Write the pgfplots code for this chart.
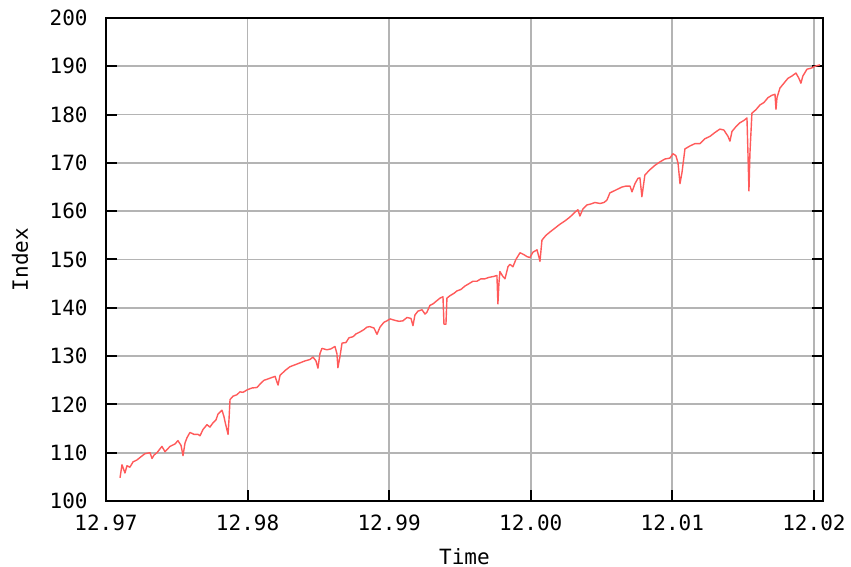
\documentclass[border=0pt]{standalone}
\usepackage{fontspec}
\setmainfont{DejaVu Sans Mono}
\usepackage{pgfplots}
\pgfplotsset{compat=1.18}
\definecolor{lineRed}{HTML}{FF5A5A}
\definecolor{gridGray}{HTML}{B4B4B4}
\pgfplotstableread{
x y
0.099 104.8
0.113 107.5
0.134 105.8
0.148 107.3
0.169 107.0
0.191 108.1
0.219 108.5
0.240 109.0
0.275 109.8
0.311 110.0
0.325 108.8
0.339 109.5
0.360 110.0
0.395 111.3
0.417 110.2
0.452 111.3
0.487 111.8
0.508 112.5
0.530 111.5
0.544 109.4
0.558 112.0
0.572 113.1
0.593 114.2
0.621 113.8
0.650 113.8
0.664 113.5
0.685 114.8
0.713 115.8
0.734 115.3
0.756 116.2
0.777 116.8
0.791 118.0
0.819 118.8
0.833 117.5
0.840 116.5
0.862 113.8
0.869 117.0
0.876 121.0
0.897 121.7
0.925 122.0
0.946 122.6
0.968 122.5
0.996 123.0
1.031 123.4
1.066 123.5
1.088 124.2
1.116 125.0
1.137 125.2
1.165 125.5
1.194 125.8
1.215 124.0
1.229 126.0
1.264 127.0
1.299 127.8
1.335 128.2
1.370 128.6
1.405 129.0
1.441 129.3
1.462 129.8
1.483 129.0
1.497 127.5
1.511 130.5
1.525 131.6
1.561 131.3
1.589 131.5
1.617 132.0
1.631 130.5
1.638 127.6
1.653 130.0
1.667 132.7
1.695 132.8
1.716 133.8
1.744 134.0
1.766 134.6
1.794 135.0
1.822 135.5
1.843 136.0
1.864 136.1
1.893 135.8
1.914 134.5
1.935 136.0
1.963 137.0
1.984 137.3
2.006 137.7
2.041 137.4
2.069 137.2
2.097 137.3
2.126 138.0
2.154 137.8
2.168 136.3
2.182 138.5
2.203 139.3
2.232 139.6
2.253 138.7
2.267 139.1
2.288 140.5
2.309 140.8
2.338 141.5
2.359 142.0
2.380 142.3
2.387 136.6
2.401 136.6
2.408 142.0
2.429 142.5
2.458 143.0
2.479 143.5
2.507 143.8
2.535 144.5
2.564 145.0
2.592 145.5
2.620 145.5
2.648 146.0
2.676 146.0
2.705 146.3
2.740 146.5
2.761 146.7
2.768 140.8
2.775 145.0
2.782 147.5
2.803 146.5
2.818 146.0
2.839 148.5
2.853 149.0
2.874 148.5
2.895 150.0
2.924 151.4
2.952 151.0
2.973 150.6
2.994 150.4
3.015 151.5
3.044 152.0
3.058 150.5
3.065 149.6
3.079 154.0
3.107 155.0
3.136 155.7
3.171 156.5
3.206 157.3
3.242 158.0
3.277 158.8
3.312 159.8
3.333 160.3
3.347 159.0
3.369 160.5
3.397 161.3
3.425 161.5
3.453 161.8
3.489 161.6
3.517 161.8
3.538 162.3
3.559 163.8
3.588 164.2
3.616 164.6
3.644 165.0
3.672 165.2
3.701 165.2
3.715 164.0
3.736 165.7
3.757 166.8
3.771 166.9
3.785 163.0
3.799 166.0
3.806 167.5
3.842 168.6
3.877 169.5
3.912 170.2
3.947 170.8
3.983 171.0
4.004 171.9
4.025 171.5
4.040 170.0
4.054 165.7
4.068 168.0
4.089 172.9
4.124 173.5
4.160 174.0
4.195 174.0
4.230 175.0
4.266 175.5
4.301 176.3
4.336 177.0
4.364 176.8
4.393 175.5
4.407 174.5
4.421 176.5
4.449 177.5
4.477 178.3
4.506 178.8
4.527 179.3
4.534 172.0
4.541 164.2
4.548 172.0
4.562 180.3
4.590 181.0
4.619 182.0
4.647 182.5
4.675 183.5
4.703 184.0
4.725 184.2
4.732 181.1
4.739 183.5
4.760 185.5
4.788 186.5
4.816 187.5
4.845 188.0
4.873 188.6
4.894 187.5
4.908 186.5
4.922 188.0
4.951 189.4
4.979 189.6
5.007 190.0
5.042 190.3
}\datatable
\begin{document}
\fontsize{10.5}{12}\selectfont
\begin{tikzpicture}
\begin{axis}[
  name=main,
  scale only axis,
  width=358.5pt, height=241.5pt,
  xmin=0, xmax=5.064, ymin=100, ymax=200,
  xtick={0,1,2,3,4,5},
  xticklabels={12.97,12.98,12.99,12.00,12.01,12.02},
  ytick={100,110,...,200},
  xtick pos=bottom,
  tick align=inside,
  major tick length=5.5pt,
  every tick/.style={black, line width=1pt},
  grid=major,
  major grid style={gridGray, line width=0.9pt},
  axis line style={black, line width=1pt},
  /pgf/number format/assume math mode=true,
  tick label style={font=\fontsize{10.5}{12}\selectfont},
  xticklabel style={anchor=center, yshift=-11pt},
  yticklabel style={anchor=east, inner sep=0pt, xshift=-9pt},
  xlabel={Time},
  ylabel={Index},
  label style={font=\fontsize{10.5}{12}\selectfont},
  xlabel style={at={(axis description cs:0.5,0)}, anchor=center, yshift=-28pt},
  ylabel style={at={(axis description cs:-0.12,0.5)}, anchor=center},
]
\addplot[lineRed, line width=0.7pt, no marks, line join=round] table[x=x,y=y] {\datatable};
\end{axis}
\pgfresetboundingbox
\path ([xshift=-53pt,yshift=-33pt]main.south west) rectangle ([xshift=14pt,yshift=9pt]main.north east);
\end{tikzpicture}
\end{document}
